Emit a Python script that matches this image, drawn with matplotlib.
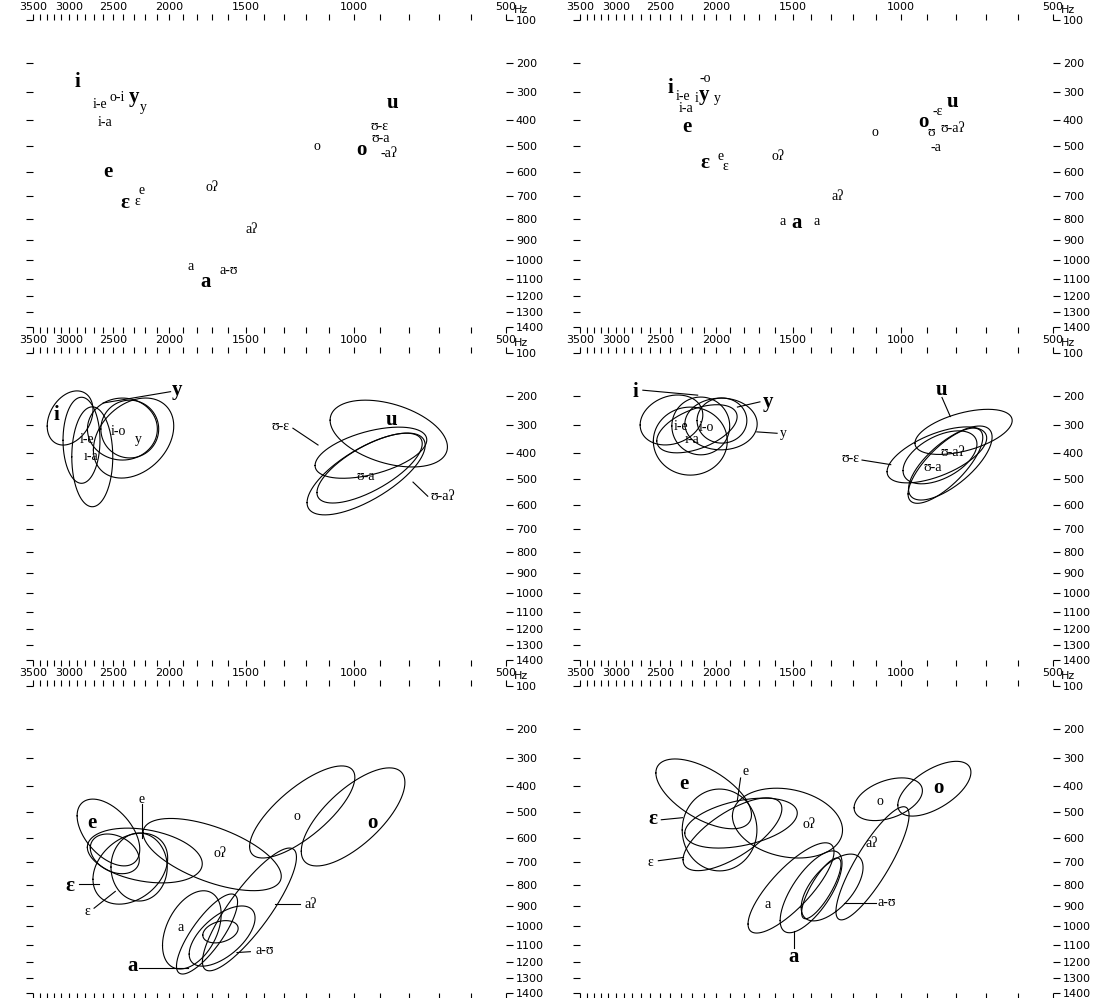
import numpy as np
import matplotlib
matplotlib.use("Agg")
import matplotlib.pyplot as plt

# Vowel formant charts: F2 (x) against F1 (y) in Hz, both on a Bark scale.
# Labels: (text, F2, F1). Ellipses: (F2, F1, sd F2 in bark, sd F1 in bark, correlation).
# Leader lines: (F2 start, F1 start, F2 end, F1 end).

p1_main = [("i", 2900, 265), ("y", 2300, 320), ("e", 2550, 600), ("ε", 2380, 730),
           ("a", 1745, 1120), ("u", 855, 340), ("o", 970, 515)]
p1_sub = [("i-e", 2630, 345), ("o-i", 2455, 320), ("y", 2210, 355), ("i-a", 2580, 410),
          ("e", 2225, 675), ("ε", 2265, 725), ("oʔ", 1700, 665), ("aʔ", 1470, 850),
          ("a", 1845, 1035), ("a-ʊ", 1600, 1055), ("ʊ-ε", 905, 425), ("ʊ-a", 900, 470),
          ("-aʔ", 870, 528), ("o", 1150, 500)]

p2_main = [("i", 2395, 285), ("y", 2100, 312), ("e", 2240, 427), ("ε", 2090, 565),
           ("a", 1477, 820), ("o", 915, 408), ("u", 810, 337)]
p2_sub = [("i-e", 2275, 318), ("i", 2155, 322), ("-o", 2090, 252), ("y", 1995, 322),
          ("i-a", 2250, 358), ("e", 1965, 540), ("ε", 1935, 580), ("oʔ", 1585, 540),
          ("aʔ", 1270, 703), ("a", 1555, 814), ("a", 1372, 814), ("o", 1105, 446),
          ("-ε", 862, 372), ("ʊ", 885, 448), ("ʊ-aʔ", 812, 431), ("-a", 870, 505)]

p3_main = [("i", 3165, 266), ("y", 1940, 180), ("u", 860, 283)]
p3_sub = [("i-e", 2780, 354), ("ı-a", 2735, 415), ("i-o", 2445, 325), ("y", 2255, 354),
          ("ʊ-ε", 1320, 307), ("ʊ-a", 955, 490), ("ʊ-aʔ", 690, 568)]
p3_ell = [(2985, 276, 0.57, 0.90, 0.3), (2845, 355, 0.46, 1.43, 0.0),
          (2720, 415, 0.51, 1.66, 0.0), (2405, 315, 0.87, 1.03, 0.0),
          (2335, 315, 0.72, 0.96, 0.0), (2300, 347, 1.00, 1.33, 0.3),
          (870, 331, 1.46, 1.11, -0.4), (935, 400, 1.39, 0.85, 0.5),
          (953, 479, 1.47, 1.36, 0.7), (940, 457, 1.31, 1.16, 0.7)]
p3_lead = [(2600, 224, 1990, 185), (1260, 312, 1147, 372), (786, 510, 737, 565)]

p4_main = [("i", 2765, 186), ("y", 1643, 220), ("u", 850, 180)]
p4_sub = [("y", 1556, 330), ("i-e", 2292, 307), ("i-o", 2076, 311), ("ı-a", 2200, 354),
          ("ʊ-ε", 1210, 420), ("ʊ-aʔ", 810, 401), ("ʊ-a", 883, 453)]
p4_ell = [(2385, 283, 0.78, 0.83, 0.2), (2213, 358, 0.92, 1.13, 0.0),
          (2124, 304, 0.72, 0.96, 0.0), (1964, 297, 0.90, 0.86, 0.0),
          (1957, 285, 0.62, 0.75, 0.0), (2156, 314, 1.00, 0.80, 0.5),
          (774, 325, 1.21, 0.75, 0.5), (866, 408, 1.24, 0.93, 0.6),
          (836, 448, 0.93, 1.25, 0.75), (819, 438, 1.04, 1.23, 0.7),
          (855, 417, 0.92, 0.88, 0.5)]
p4_lead = [(2680, 180, 2150, 197), (1845, 238, 1695, 220), (1715, 325, 1590, 330),
           (848, 205, 819, 271), (1160, 427, 1040, 444)]

p5_main = [("e", 2723, 541), ("ε", 2990, 804), ("o", 930, 541), ("a", 2310, 1225)]
p5_sub = [("e", 2228, 450), ("ε", 2778, 924), ("oʔ", 1652, 664), ("o", 1240, 517),
          ("aʔ", 1180, 890), ("a", 1913, 1010), ("a-ʊ", 1397, 1135)]
p5_ell = [(2545, 578, 0.78, 1.11, -0.5), (2200, 672, 1.43, 0.91, -0.3),
          (2330, 728, 0.93, 1.18, 0.3), (2250, 721, 0.70, 1.13, 0.0),
          (2480, 665, 0.61, 0.66, -0.3), (1700, 668, 1.72, 1.20, -0.6),
          (1217, 498, 1.31, 1.53, 0.75), (1003, 517, 1.29, 1.63, 0.7),
          (1480, 916, 1.17, 2.04, 0.85), (1835, 1020, 0.73, 1.30, 0.4),
          (1638, 1053, 0.82, 1.00, 0.6), (1648, 1030, 0.44, 0.37, 0.3),
          (1733, 1042, 0.76, 1.33, 0.8)]
p5_lead = [(2228, 468, 2228, 600), (2875, 795, 2650, 795), (2700, 910, 2475, 830),
           (1345, 890, 1225, 890), (1550, 1145, 1475, 1140), (2248, 1237, 1860, 1237)]

p6_main = [("e", 2273, 394), ("ε", 2575, 525), ("o", 862, 408), ("a", 1494, 1170)]
p6_sub = [("e", 1790, 347), ("ε", 2593, 703), ("oʔ", 1414, 545), ("o", 1085, 457),
          ("aʔ", 1118, 624), ("a", 1646, 890), ("a-ʊ", 1057, 880)]
p6_ell = [(2100, 430, 1.19, 1.16, -0.6), (1975, 568, 0.93, 1.36, 0.0),
          (1880, 585, 1.23, 1.21, 0.7), (1820, 541, 1.40, 0.83, 0.4),
          (1530, 541, 1.37, 1.16, -0.2), (1050, 450, 0.85, 0.71, 0.4),
          (875, 411, 0.91, 0.91, 0.6), (1115, 705, 0.91, 1.88, 0.85),
          (1510, 814, 1.07, 1.50, 0.8), (1402, 832, 0.77, 1.36, 0.7),
          (1297, 812, 0.77, 1.11, 0.6), (1350, 816, 0.49, 1.01, 0.8)]
p6_lead = [(1823, 372, 1846, 456), (2485, 528, 2282, 520), (2515, 694, 2273, 680),
           (1240, 885, 1100, 885), (1494, 1024, 1494, 1120)]

x_ticks = list(range(500, 3501, 100))
x_labelled = {3500: "3500", 3000: "3000", 2500: "2500", 2000: "2000",
              1500: "1500", 1000: "1000", 500: "500"}
# the chart's top edge sits a little above 100 Hz on the bark scale, labelled "100"
y_top = 54
y_ticks = [y_top] + list(range(200, 1401, 100))
y_labels = ["100"] + [str(t) for t in range(200, 1401, 100)]

SERIF = ["Liberation Serif", "DejaVu Serif"]


def bark(f):
    f = np.asarray(f, dtype=float)
    return 13 * np.arctan(0.00076 * f) + 3.5 * np.arctan((f / 7500.0) ** 2)


_grid = np.linspace(0, 8000, 80001)
_grid_z = bark(_grid)


def inv_bark(z):
    return np.interp(z, _grid_z, _grid)


def setup(ax):
    ax.set_xscale("function", functions=(bark, inv_bark))
    ax.set_yscale("function", functions=(bark, inv_bark))
    ax.set_xlim(3500, 500)
    ax.set_ylim(1400, y_top)
    for s in ax.spines.values():
        s.set_visible(False)
    ax.set_xticks(x_ticks)
    ax.set_xticklabels([x_labelled.get(t, "") for t in x_ticks])
    ax.set_yticks(y_ticks)
    ax.set_yticklabels(y_labels)
    ax.minorticks_off()
    ax.tick_params(axis="x", top=True, bottom=True, labeltop=True, labelbottom=False,
                   direction="out", length=4, width=0.8, pad=1.5, labelsize=8)
    ax.tick_params(axis="y", left=True, right=True, labelleft=False, labelright=True,
                   direction="out", length=5, width=0.8, pad=2.5, labelsize=8)
    ax.annotate("Hz", xy=(1, 1), xycoords="axes fraction", xytext=(6.0, 3.3),
                textcoords="offset points", ha="left", va="bottom", fontsize=8)


def draw(ax, main, sub, ells=(), leads=()):
    t = np.linspace(0, 2 * np.pi, 240)
    for f2, f1, sx, sy, r in ells:
        zx = bark(f2) + sx * np.cos(t)
        zy = bark(f1) + sy * (r * np.cos(t) + np.sqrt(1 - r * r) * np.sin(t))
        ax.plot(inv_bark(zx), inv_bark(zy), color="black", lw=0.8)
    for a2, a1, b2, b1 in leads:
        ax.plot([a2, b2], [a1, b1], color="black", lw=0.8)
    for s, f2, f1 in main:
        ax.text(f2, f1, s, ha="center", va="center", fontsize=15,
                fontweight="bold", family=SERIF)
    for s, f2, f1 in sub:
        ax.text(f2, f1, s, ha="center", va="center", fontsize=10, family=SERIF)


fig = plt.figure(figsize=(11.01, 9.98), dpi=100)
W, H = 1101, 998
col_left = [33, 580]
row_bottom = [327, 660, 993]
ax_w, ax_h = 472.5, 307

panels = [
    (0, 0, p1_main, p1_sub, [], []),
    (0, 1, p2_main, p2_sub, [], []),
    (1, 0, p3_main, p3_sub, p3_ell, p3_lead),
    (1, 1, p4_main, p4_sub, p4_ell, p4_lead),
    (2, 0, p5_main, p5_sub, p5_ell, p5_lead),
    (2, 1, p6_main, p6_sub, p6_ell, p6_lead),
]

for row, col, main, sub, ells, leads in panels:
    ax = fig.add_axes([col_left[col] / W, 1 - row_bottom[row] / H, ax_w / W, ax_h / H])
    setup(ax)
    draw(ax, main, sub, ells, leads)

fig.savefig("out.png", dpi=100, facecolor="white")
